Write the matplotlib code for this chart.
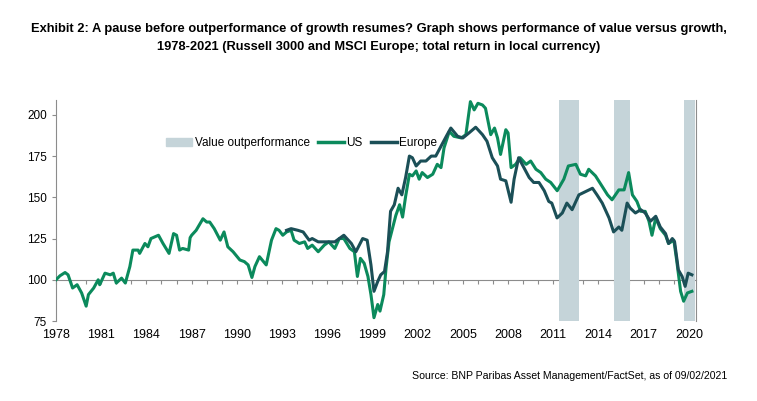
import matplotlib.pyplot as plt
from matplotlib.patches import Patch
from matplotlib.lines import Line2D

plt.rcParams['font.family'] = ['Liberation Sans', 'DejaVu Sans']

# values (x in years, y = index)
us_x = [1978.0, 1978.26, 1978.6, 1978.8, 1979.1, 1979.4, 1979.7, 1980.0, 1980.15, 1980.5,
        1980.8, 1980.9, 1981.25, 1981.6, 1981.8, 1982.0, 1982.35, 1982.6, 1982.9, 1983.1,
        1983.45, 1983.55, 1983.9, 1984.1, 1984.3, 1984.8, 1985.1, 1985.5, 1985.8, 1986.0,
        1986.2, 1986.4, 1986.8, 1986.9, 1987.0, 1987.3, 1987.75, 1988.0, 1988.2, 1988.5,
        1988.9, 1989.15, 1989.4, 1989.75, 1990.2, 1990.5, 1990.75, 1991.0, 1991.2, 1991.5,
        1991.95, 1992.3, 1992.6, 1992.8, 1993.05, 1993.3, 1993.6, 1993.8, 1994.15, 1994.5,
        1994.7, 1995.0, 1995.4, 1995.8, 1996.1, 1996.5, 1996.8, 1997.1, 1997.5, 1997.8,
        1998.0, 1998.2, 1998.45, 1998.7, 1998.9, 1999.1, 1999.35, 1999.5, 1999.75, 1999.9,
        2000.1, 2000.35, 2000.55, 2000.8, 2001.0, 2001.2, 2001.45, 2001.65, 2001.9, 2002.1,
        2002.3, 2002.65, 2003.0, 2003.3, 2003.55, 2003.75, 2004.1, 2004.4, 2004.9, 2005.2,
        2005.5, 2005.75, 2006.0, 2006.3, 2006.5, 2006.85, 2007.1, 2007.3, 2007.5, 2007.85,
        2008.0, 2008.2, 2008.5, 2008.8, 2009.2, 2009.5, 2009.85, 2010.17, 2010.5, 2010.83,
        2011.26, 2011.7, 2012.0, 2012.5, 2012.8, 2013.15, 2013.35, 2013.8, 2014.15, 2014.6,
        2014.9, 2015.35, 2015.7, 2016.0, 2016.25, 2016.55, 2016.8, 2017.1, 2017.35, 2017.55,
        2017.8, 2018.1, 2018.45, 2018.65, 2019.0, 2019.2, 2019.45, 2019.65, 2019.9, 2020.2]
us_y = [100, 102.4, 104.4, 103, 95, 97, 92, 84, 91, 95,
        100, 97, 104, 103, 104, 98, 101, 98, 108, 118,
        118, 116, 122, 120, 125, 127, 122, 116, 128, 127,
        118, 119, 118, 125.5, 127, 130, 137, 135, 135, 131,
        124, 129, 120, 117, 112, 111, 109, 101.4, 108, 114,
        109, 124, 131, 130, 127, 129, 130, 124, 122, 123,
        119, 121, 117, 121, 123, 119, 125, 125, 119, 117,
        102, 113, 110, 102, 91, 77, 85, 81, 91, 107,
        123, 132, 139, 145.5, 138, 150.5, 164, 163, 166, 161,
        165, 162, 164, 170, 168, 180, 190, 187, 186, 188,
        208, 203, 207, 206, 204, 188, 192, 186, 176, 191,
        189, 168, 170, 174, 170, 172, 167, 165, 161, 159,
        154, 161, 169, 170, 164, 163, 167, 163, 158, 151.5,
        148.5, 154.5, 154.5, 165, 151.5, 147.5, 141.5, 141.5, 135.5, 127,
        137.5, 131, 127, 122, 124, 111, 93, 87, 92, 93]

eu_x = [1993.3, 1993.6, 1994.05, 1994.4, 1994.8, 1995.0, 1995.4, 1995.8, 1996.5, 1997.1,
        1997.6, 1997.9, 1998.35, 1998.65, 1998.9, 1999.1, 1999.35, 1999.55, 1999.8, 2000.0,
        2000.2, 2000.45, 2000.7, 2000.95, 2001.2, 2001.45, 2001.65, 2001.9, 2002.2, 2002.55,
        2002.9, 2003.2, 2003.55, 2003.9, 2004.2, 2004.65, 2005.0, 2005.4, 2005.85, 2006.3,
        2006.6, 2006.95, 2007.3, 2007.5, 2007.85, 2008.2, 2008.4, 2008.7, 2009.05, 2009.4,
        2009.7, 2010.05, 2010.4, 2010.7, 2010.9, 2011.25, 2011.6, 2011.9, 2012.25, 2012.7,
        2013.15, 2013.6, 2013.9, 2014.25, 2014.7, 2015.0, 2015.35, 2015.55, 2015.9, 2016.1,
        2016.45, 2016.8, 2017.1, 2017.45, 2017.8, 2018.1, 2018.45, 2018.65, 2018.9, 2019.05,
        2019.3, 2019.55, 2019.75, 2019.95, 2020.2]
eu_y = [130, 131, 130, 129, 124, 125, 123, 123, 123, 127,
        122, 117, 125, 124, 109, 93, 99, 103, 105, 117,
        141.5, 145.5, 155.5, 151.5, 162, 175, 174, 169, 172, 172,
        175, 175, 181, 187, 192, 187, 186, 189, 192.5, 188,
        184, 174, 169, 161, 160, 147, 161, 174, 168, 162,
        159, 159, 154, 147.5, 146.5, 137.5, 140.5, 146.5, 142.5, 151.5,
        153.5, 155.5, 151.5, 146.5, 137.5, 129, 132, 130, 146.5, 143.5,
        140.5, 142.5, 140.5, 135.5, 138.5, 132, 128, 122, 125, 123,
        106, 102, 96, 104, 103]

# periods of value outperformance (start, end)
bands = [(2011.4, 2012.7), (2015.0, 2016.1), (2019.7, 2020.4)]

years = list(range(1978, 2021, 3))
yticks = [75, 100, 125, 150, 175, 200]

us_color = "#0b8a5c"
eu_color = "#1b4f57"
band_color = "#c5d4d9"
axis_gray = "#8c8c8c"

fig = plt.figure(figsize=(7.57, 4.01), dpi=100)
ax = fig.add_axes([0.074, 0.1995, 0.845, 0.5511])

for b0, b1 in bands:
    ax.axvspan(b0, b1, color=band_color, lw=0, zorder=1)

ax.plot(us_x, us_y, color=us_color, lw=2.2, zorder=3)
ax.plot(eu_x, eu_y, color=eu_color, lw=2.2, zorder=4)

ax.set_xlim(1978, 2020.45)
ax.set_ylim(75, 209)
ax.set_yticks(yticks)
ax.set_xticks(years)
ax.tick_params(axis='x', length=0, labelsize=9, pad=6)
ax.tick_params(axis='y', length=3, color=axis_gray, labelsize=8.5)

for s in ['top', 'bottom']:
    ax.spines[s].set_visible(False)
for s in ['left', 'right']:
    ax.spines[s].set_color(axis_gray)
    ax.spines[s].set_linewidth(0.8)

# axis line through 100 with yearly ticks
loc = (100 - 75) / (209 - 75)
sec = ax.secondary_xaxis(loc)
sec.set_xticks(range(1978, 2021))
sec.tick_params(axis='x', length=3, color=axis_gray, labelbottom=False, labeltop=False,
                direction='out')
sec.spines['bottom'].set_color(axis_gray)
sec.spines['bottom'].set_linewidth(0.8)

handles = [Patch(color=band_color, label='Value outperformance'),
           Line2D([], [], color=us_color, lw=2.5, label='US'),
           Line2D([], [], color=eu_color, lw=2.5, label='Europe')]
ax.legend(handles=handles, loc='center', bbox_to_anchor=(0.384, 0.805), ncol=3,
          frameon=False, fontsize=8.5, handlelength=2.2, handletextpad=0.2,
          columnspacing=0.7)

fig.text(0.5, 0.905, "Exhibit 2: A pause before outperformance of growth resumes? Graph shows performance of value versus growth,\n"
         "1978-2021 (Russell 3000 and MSCI Europe; total return in local currency)",
         ha='center', va='center', fontsize=9.3, fontweight='bold', linespacing=1.75)
fig.text(0.961, 0.062, "Source: BNP Paribas Asset Management/FactSet, as of 09/02/2021",
         ha='right', va='center', fontsize=7.6)

fig.savefig("out.png", dpi=100)
